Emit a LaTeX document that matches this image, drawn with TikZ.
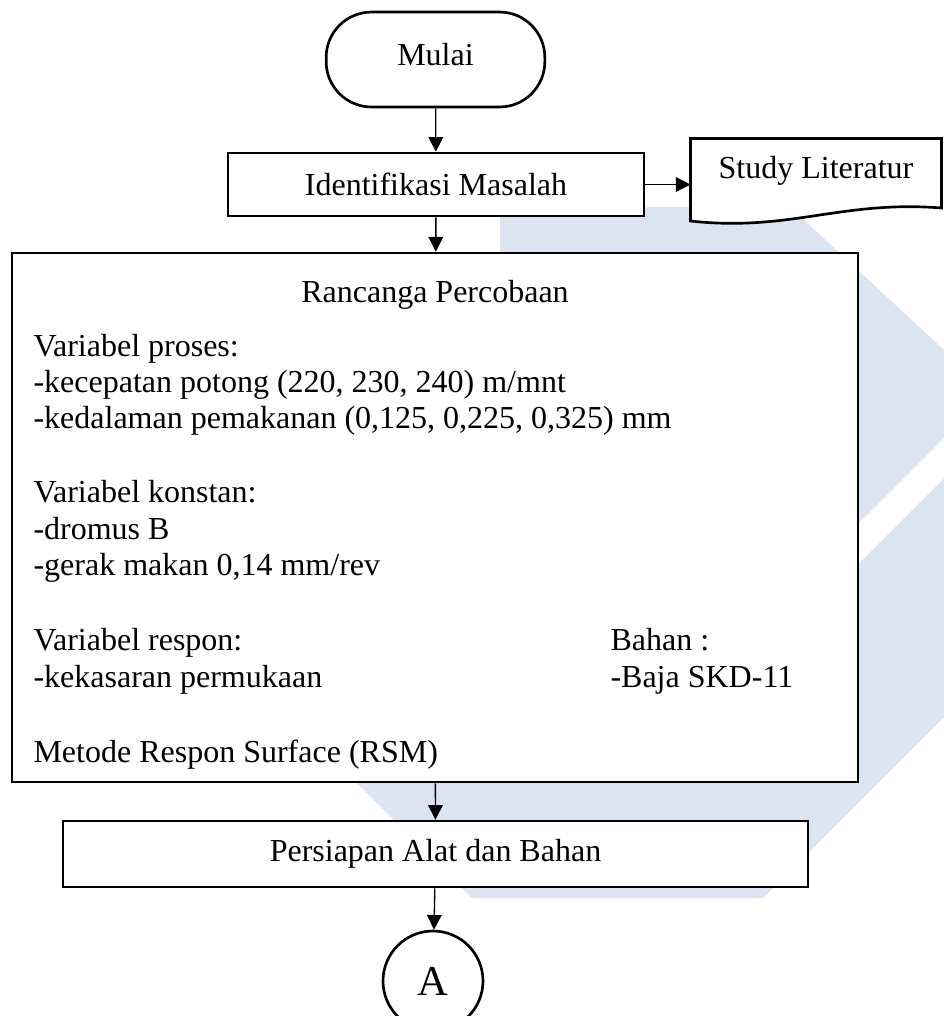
\documentclass[tikz,border=0pt]{standalone}
\usepackage{fontspec}
\setmainfont{Liberation Serif}
\usetikzlibrary{arrows.meta,shapes.geometric,calc,backgrounds,positioning}
\definecolor{wmblue}{RGB}{220,227,241}
\tikzset{arr/.style={-{Triangle[length=5.5pt,width=5.5pt]},line width=.5pt}}

\begin{document}
\begin{tikzpicture}[x=.375pt,y=-.375pt,font=\fontsize{12}{14}\selectfont]

\tikzset{terminal/.style={draw,line width=1pt,fill=white,rounded corners=17pt,minimum width=82pt,minimum height=35.6pt,inner sep=0pt,text depth=4pt},
prosesbox/.style={draw,line width=1pt,fill=white,inner sep=0pt},
docbox/.style={minimum width=93.75pt,minimum height=28.5pt,inner sep=0pt,text depth=7.5pt},
konektor/.style={draw,line width=1pt,fill=white,shape=circle,minimum size=37.5pt,inner sep=0pt,font=\fontsize{16}{18}\selectfont},
teks/.style={inner sep=0pt,anchor=base west}}

% Page size
\useasboundingbox (0,0) rectangle (944,1016);

% Flow nodes
\node[terminal] (mulai) at (435.5,59.5) {Mulai};
\node[prosesbox,minimum width=156pt,minimum height=23.6pt] (ident) at (436,184.5) {Identifikasi Masalah};
\node[docbox] (lit) at (816,177) {Study Literatur};
\node[prosesbox,minimum width=317.25pt,minimum height=198.4pt] (rancang) at (435,517.5) {};
\node[prosesbox,minimum width=279.4pt,minimum height=24.75pt] (siap) at (435.5,854) {Persiapan Alat dan Bahan};
\node[konektor] (konA) at (433,981) {A};

% Watermark and document shape
\begin{scope}[on background layer]
\fill[wmblue] (500,207) -- (790,207) -- (944,350) -- (944,717) -- (763,898) -- (472,898) -- (340,766) -- (340,420) -- (500,260) -- cycle;
\fill[white] (944,438) -- (944,478) -- (800,622) -- (800,582) -- cycle;
\draw[line width=1pt,fill=white] (lit.north west) -- (lit.north east) -- ($(lit.east)+(0,31)$) .. controls +(-100,-8) and +(99,11) .. ($(lit.west)+(0,44)$) -- cycle;
\end{scope}

% Rancangan text
\node[anchor=base] (judul) at (435,302) {Rancanga Percobaan};
\foreach \baris/\y [count=\i] in {{Variabel proses:}/356, {-kecepatan potong (220, 230, 240) m/mnt}/392, {-kedalaman pemakanan (0,125, 0,225, 0,325) mm}/428, {Variabel konstan:}/502, {-dromus B}/539, {-gerak makan 0,14 mm/rev}/575, {Variabel respon:}/650, {-kekasaran permukaan}/687, {Metode Respon Surface (RSM)}/762}
  \node[teks] (kiri\i) at (33,\y) {\baris};
\node[teks] (bahan1) at (610,650) {Bahan :};
\node[teks] (bahan2) at (610,687) {-Baja SKD-11};

% Arrows
\draw[arr] (mulai) -- (ident);
\draw[arr] (ident) -- (rancang);
\draw[arr] (ident.east) -- (ident.east -| lit.west);
\draw[arr] (rancang) -- (siap);
\draw[arr] (siap) -- (konA);

\end{tikzpicture}
\end{document}
